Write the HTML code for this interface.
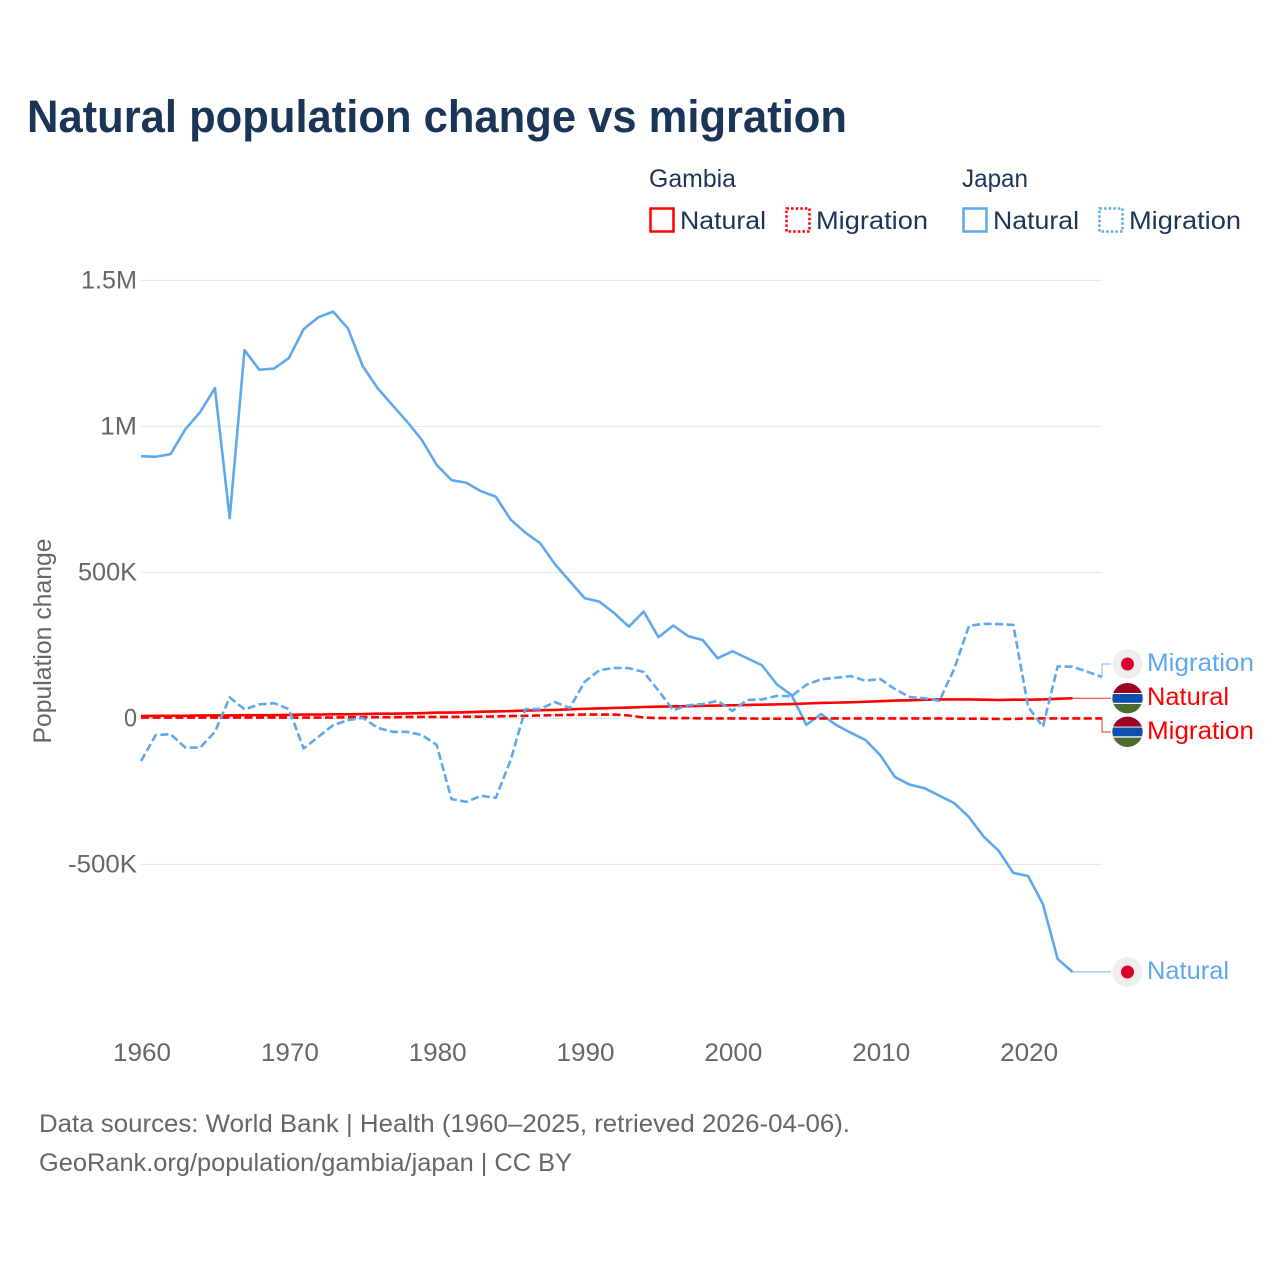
<!DOCTYPE html>
<html lang="en">
<head>
<meta charset="utf-8">
<title>Natural population change vs migration</title>
<style>
html,body{margin:0;padding:0;background:#fff}
svg{display:block}
text{font-family:"Liberation Sans",sans-serif}
</style>
</head>
<body>
<svg id="chart" xmlns="http://www.w3.org/2000/svg" width="1280" height="1280" viewBox="0 0 1280 1280">
  <rect width="1280" height="1280" fill="#ffffff"/>
  <text x="27" y="132" font-size="45" font-weight="700" fill="#1a3557" textLength="820" lengthAdjust="spacingAndGlyphs">Natural population change vs migration</text>

  <g font-size="25" fill="#1a3557">
    <text x="649" y="187" textLength="87" lengthAdjust="spacingAndGlyphs">Gambia</text>
    <text x="962" y="187" textLength="66" lengthAdjust="spacingAndGlyphs">Japan</text>
    <g>
      <rect x="650.5" y="208.5" width="23" height="23" fill="none" stroke="#ff0000" stroke-width="2.5"/>
      <text x="680" y="229" textLength="86" lengthAdjust="spacingAndGlyphs">Natural</text>
    </g>
    <g>
      <rect x="786.5" y="208.5" width="23" height="23" fill="none" stroke="#ff0000" stroke-width="2.5" stroke-dasharray="2.5 2.1"/>
      <text x="816" y="229" textLength="112" lengthAdjust="spacingAndGlyphs">Migration</text>
    </g>
    <g>
      <rect x="963.5" y="208.5" width="23" height="23" fill="none" stroke="#5ea8ee" stroke-width="2.5"/>
      <text x="993" y="229" textLength="86" lengthAdjust="spacingAndGlyphs">Natural</text>
    </g>
    <g>
      <rect x="1099.5" y="208.5" width="23" height="23" fill="none" stroke="#5ea8ee" stroke-width="2.5" stroke-dasharray="2.5 2.1"/>
      <text x="1129" y="229" textLength="112" lengthAdjust="spacingAndGlyphs">Migration</text>
    </g>
  </g>

  <g id="grid"></g>
  <g id="yticks"></g>
  <g id="xticks"></g>
  <text transform="translate(51,641) rotate(-90)" text-anchor="middle" font-size="25" fill="#666666" textLength="205" lengthAdjust="spacingAndGlyphs">Population change</text>

  <g id="series"></g>

  <defs>
    <clipPath id="flag-clip-a"><circle cx="1127.5" cy="698.2" r="15.2"/></clipPath>
    <clipPath id="flag-clip-b"><circle cx="1127.5" cy="731.8" r="15.2"/></clipPath>
  </defs>
  <g>
    <circle cx="1127.5" cy="664" r="15" fill="#eeeeee"/>
    <circle cx="1127.5" cy="664" r="6.5" fill="#dc0030"/>
  </g>
  <circle cx="1127.5" cy="698.2" r="16.2" fill="#ffffff"/>
  <g clip-path="url(#flag-clip-a)">
    <rect x="1112" y="682" width="31" height="11" fill="#9c0022"/>
    <rect x="1112" y="693" width="31" height="11" fill="#ffffff"/>
    <rect x="1112" y="694" width="31" height="8.8" fill="#0c50ad"/>
    <rect x="1112" y="704" width="31" height="11" fill="#4c6b2e"/>
  </g>
  <circle cx="1127.5" cy="731.8" r="16.2" fill="#ffffff"/>
  <g clip-path="url(#flag-clip-b)">
    <rect x="1112" y="716" width="31" height="11" fill="#9c0022"/>
    <rect x="1112" y="726.6" width="31" height="11" fill="#ffffff"/>
    <rect x="1112" y="727.5" width="31" height="8.8" fill="#0c50ad"/>
    <rect x="1112" y="737.6" width="31" height="11" fill="#4c6b2e"/>
  </g>
  <g>
    <circle cx="1127.5" cy="972" r="15" fill="#eeeeee"/>
    <circle cx="1127.5" cy="972" r="6.5" fill="#dc0030"/>
  </g>

  <g font-size="25">
    <text x="1147" y="671" fill="#5ea8ee" textLength="107" lengthAdjust="spacingAndGlyphs">Migration</text>
    <text x="1147" y="705" fill="#ff0000" textLength="82" lengthAdjust="spacingAndGlyphs">Natural</text>
    <text x="1147" y="739" fill="#ff0000" textLength="107" lengthAdjust="spacingAndGlyphs">Migration</text>
    <text x="1147" y="979" fill="#5ea8ee" textLength="82" lengthAdjust="spacingAndGlyphs">Natural</text>
  </g>

  <g font-size="25" fill="#666666">
    <text x="39" y="1132" textLength="811" lengthAdjust="spacingAndGlyphs">Data sources: World Bank | Health (1960–2025, retrieved 2026-04-06).</text>
    <text x="39" y="1171" textLength="533" lengthAdjust="spacingAndGlyphs">GeoRank.org/population/gambia/japan | CC BY</text>
  </g>
</svg>

<script>
const startYear = 1960;
const xTickYears = [1960, 1970, 1980, 1990, 2000, 2010, 2020];
const yTickValues = [1500, 1000, 500, 0, -500];
const yTickLabels = ["1.5M", "1M", "500K", "0", "-500K"];
const yTickLabelWidths = [56, 37, 59, 13, 69];

// values in thousands of people, one per year from 1960
const japanNatural = [898,896,905,990,1049,1131,686,1261,1194,1198,1234,1333,1374,1393,1335,1206,1131,1073,1016,953,868,816,807,778,759,681,636,600,528,470,412,400,361,314,366,278,318,282,268,206,230,206,182,117,80,-22,15,-22,-49,-74,-126,-201,-227,-239,-265,-290,-338,-405,-453,-529,-540,-636,-824,-868];
const japanMigration = [-146,-57,-54,-100,-100,-46,72,31,48,52,32,-103,-63,-23,-6,2,-32,-46,-46,-57,-91,-276,-286,-265,-272,-143,32,32,56,35,125,165,173,172,159,95,28,45,49,60,26,63,65,77,76,115,134,139,145,129,135,100,73,69,60,169,317,324,323,320,40,-29,178,177,160,142];
const gambiaNatural = [8,9,9,9,10,10,10,11,11,11,12,13,13,14,14,15,16,16,17,18,20,20,21,23,24,25,27,28,29,31,33,34,36,37,39,40,41,42,43,44,45,46,47,48,49,51,53,54,55,57,59,61,62,64,65,65,65,64,63,64,64,65,67,69];
const gambiaMigration = [3,3,3,3,3,3,3,3,3,3,3,3,3,3,4,4,4,4,5,5,5,5,6,6,7,8,9,10,11,12,13,13,13,10,3,1,1,1,0,0,0,0,-1,-1,-1,0,0,0,0,0,0,0,0,0,0,-1,-1,-1,-2,-2,0,0,0,0,0,0];

const NS = "http://www.w3.org/2000/svg";
function xScale(year) { return 141 + (year - startYear) * 14.785; }
function yScale(v) { return 718.4 - v * 0.292; }
function pointsOf(values) {
  return values.map(function (v, i) {
    return xScale(startYear + i).toFixed(2) + "," + yScale(v).toFixed(2);
  }).join(" ");
}

const grid = document.getElementById("grid");
const yticks = document.getElementById("yticks");
const xticks = document.getElementById("xticks");
const series = document.getElementById("series");

yTickValues.forEach(function (v, i) {
  const line = document.createElementNS(NS, "line");
  
  
  line.setAttribute("x1", xScale(startYear));
  line.setAttribute("x2", xScale(2025));
  line.setAttribute("y1", yScale(v));
  line.setAttribute("y2", yScale(v));
  line.setAttribute("stroke", "#e4e4e4");
  line.setAttribute("stroke-width", "1");
  grid.appendChild(line);

  const label = document.createElementNS(NS, "text");
  
  
  label.setAttribute("x", 137 - yTickLabelWidths[i]);
  label.setAttribute("y", yScale(v) + 8);
  label.setAttribute("font-size", "25");
  label.setAttribute("fill", "#666666");
  label.setAttribute("textLength", yTickLabelWidths[i]);
  label.setAttribute("lengthAdjust", "spacingAndGlyphs");
  label.textContent = yTickLabels[i];
  yticks.appendChild(label);
});

xTickYears.forEach(function (yr) {
  const label = document.createElementNS(NS, "text");
  
  
  label.setAttribute("x", xScale(yr) - 28);
  label.setAttribute("y", 1061);
  label.setAttribute("font-size", "25");
  label.setAttribute("fill", "#666666");
  label.setAttribute("textLength", "58");
  label.setAttribute("lengthAdjust", "spacingAndGlyphs");
  label.textContent = String(yr);
  xticks.appendChild(label);
});

function lastPoint(values) {
  const i = values.length - 1;
  return { x: xScale(startYear + i), y: yScale(values[i]) };
}

function addLine(values, color, dashed, name) {
  const pl = document.createElementNS(NS, "polyline");
  
  
  pl.setAttribute("points", pointsOf(values));
  pl.setAttribute("fill", "none");
  pl.setAttribute("stroke", color);
  pl.setAttribute("stroke-width", "2.6");
  pl.setAttribute("stroke-linejoin", "round");
  if (dashed) pl.setAttribute("stroke-dasharray", "8 3.5");
  series.appendChild(pl);
}

function addConnector(values, labelY, color, name) {
  const p = lastPoint(values);
  const c = document.createElementNS(NS, "polyline");
  
  
  const midX = Math.max(p.x, 1101.5);
  c.setAttribute("points", p.x + "," + p.y + " " + midX + "," + p.y + " " + midX + "," + labelY + " 1111," + labelY);
  c.setAttribute("fill", "none");
  c.setAttribute("stroke", color);
  c.setAttribute("stroke-width", "1");
  c.setAttribute("opacity", "0.85");
  series.appendChild(c);
}

addConnector(japanNatural, yScale(japanNatural[japanNatural.length - 1]), "#5ea8ee", "connector-japan-natural");
addConnector(japanMigration, 664, "#5ea8ee", "connector-japan-migration");
addConnector(gambiaNatural, yScale(gambiaNatural[gambiaNatural.length - 1]), "#ff0000", "connector-gambia-natural");
addConnector(gambiaMigration, 732, "#ff0000", "connector-gambia-migration");

addLine(japanNatural, "#5ea8ee", false, "line-japan-natural");
addLine(gambiaMigration, "#ff0000", true, "line-gambia-migration");
addLine(gambiaNatural, "#ff0000", false, "line-gambia-natural");
addLine(japanMigration, "#5ea8ee", true, "line-japan-migration");
</script>
</body>
</html>
